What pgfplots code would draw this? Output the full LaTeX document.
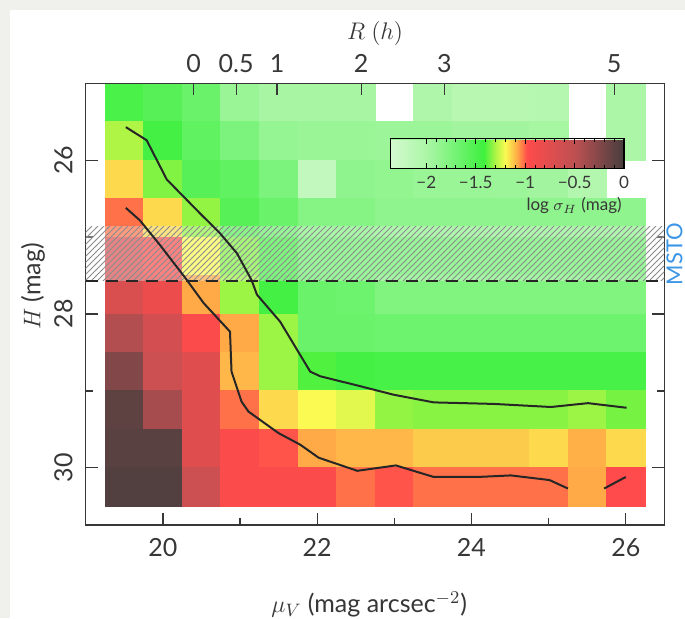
\documentclass[border=0pt]{standalone}
\usepackage{pgfplots}
\pgfplotsset{compat=1.18}
\usepackage{pgfplotstable}
\usepackage{fontspec}
\setmainfont{Lato}
\usetikzlibrary{patterns,calc}
\definecolor{frame}{RGB}{55,55,55}
\definecolor{msto}{RGB}{60,150,230}
\definecolor{bggray}{RGB}{240,240,236}

% cells: mu_V centre, H centre, log sigma_H
\pgfplotstableread{
x y c
19.5 25.25 -1.48
20.0 25.25 -1.55
20.5 25.25 -1.65
21.0 25.25 -1.90
21.5 25.25 -1.98
22.0 25.25 -1.98
22.5 25.25 -1.98
23.5 25.25 -2.03
24.0 25.25 -2.10
24.5 25.25 -2.10
25.0 25.25 -2.08
26.0 25.25 -2.00
19.5 25.75 -1.30
20.0 25.75 -1.45
20.5 25.75 -1.60
21.0 25.75 -1.75
21.5 25.75 -1.88
22.0 25.75 -1.90
22.5 25.75 -1.90
23.0 25.75 -1.92
23.5 25.75 -1.92
24.0 25.75 -1.95
24.5 25.75 -1.95
25.0 25.75 -1.97
26.0 25.75 -2.00
19.5 26.25 -1.15
20.0 26.25 -1.35
20.5 26.25 -1.55
21.0 26.25 -1.60
21.5 26.25 -1.75
22.0 26.25 -2.20
22.5 26.25 -1.85
23.0 26.25 -1.87
23.5 26.25 -1.90
24.0 26.25 -1.90
24.5 26.25 -1.92
25.0 26.25 -1.95
25.5 26.25 -2.05
19.5 26.75 -1.02
20.0 26.75 -1.15
20.5 26.75 -1.33
21.0 26.75 -1.55
21.5 26.75 -1.65
22.0 26.75 -1.80
22.5 26.75 -1.80
23.0 26.75 -1.85
23.5 26.75 -1.85
24.0 26.75 -1.85
24.5 26.75 -1.85
25.0 26.75 -1.85
25.5 26.75 -1.85
26.0 26.75 -1.85
19.5 27.25 -0.72
20.0 27.25 -0.95
20.5 27.25 -1.20
21.0 27.25 -1.35
21.5 27.25 -1.48
22.0 27.25 -1.68
22.5 27.25 -1.68
23.0 27.25 -1.68
23.5 27.25 -1.68
24.0 27.25 -1.68
24.5 27.25 -1.68
25.0 27.25 -1.68
25.5 27.25 -1.68
26.0 27.25 -1.68
19.5 27.75 -0.70
20.0 27.75 -0.85
20.5 27.75 -1.08
21.0 27.75 -1.32
21.5 27.75 -1.45
22.0 27.75 -1.65
22.5 27.75 -1.67
23.0 27.75 -1.77
23.5 27.75 -1.77
24.0 27.75 -1.77
24.5 27.75 -1.77
25.0 27.75 -1.77
25.5 27.75 -1.77
26.0 27.75 -1.77
19.5 28.25 -0.45
20.0 28.25 -0.65
20.5 28.25 -0.95
21.0 28.25 -1.08
21.5 28.25 -1.32
22.0 28.25 -1.65
22.5 28.25 -1.65
23.0 28.25 -1.67
23.5 28.25 -1.67
24.0 28.25 -1.67
24.5 28.25 -1.67
25.0 28.25 -1.67
25.5 28.25 -1.67
26.0 28.25 -1.67
19.5 28.75 -0.25
20.0 28.75 -0.60
20.5 28.75 -0.75
21.0 28.75 -1.10
21.5 28.75 -1.32
22.0 28.75 -1.40
22.5 28.75 -1.45
23.0 28.75 -1.47
23.5 28.75 -1.47
24.0 28.75 -1.47
24.5 28.75 -1.47
25.0 28.75 -1.47
25.5 28.75 -1.47
26.0 28.75 -1.47
19.5 29.25 -0.10
20.0 29.25 -0.40
20.5 29.25 -0.75
21.0 29.25 -1.02
21.5 29.25 -1.15
22.0 29.25 -1.20
22.5 29.25 -1.23
23.0 29.25 -1.33
23.5 29.25 -1.34
24.0 29.25 -1.34
24.5 29.25 -1.34
25.0 29.25 -1.34
25.5 29.25 -1.32
26.0 29.25 -1.36
19.5 29.75 -0.08
20.0 29.75 -0.08
20.5 29.75 -0.75
21.0 29.75 -0.96
21.5 29.75 -0.99
22.0 29.75 -1.08
22.5 29.75 -1.10
23.0 29.75 -1.10
23.5 29.75 -1.13
24.0 29.75 -1.13
24.5 29.75 -1.13
25.0 29.75 -1.15
25.5 29.75 -1.09
26.0 29.75 -1.15
19.5 30.25 -0.05
20.0 30.25 -0.05
20.5 30.25 -0.60
21.0 30.25 -0.96
21.5 30.25 -0.96
22.0 30.25 -0.96
22.5 30.25 -1.02
23.0 30.25 -0.99
23.5 30.25 -1.02
24.0 30.25 -1.02
24.5 30.25 -1.02
25.0 30.25 -1.02
25.5 30.25 -1.08
26.0 30.25 -0.98
}\cells

\pgfplotstableread{
x y
19.52 25.57
19.79 25.74
20.05 26.25
20.48 26.69
20.74 26.95
20.96 27.21
21.15 27.56
21.22 27.75
21.52 28.10
21.91 28.75
22.04 28.81
22.56 28.94
22.99 29.05
23.51 29.15
24.29 29.17
25.03 29.21
25.51 29.16
26.01 29.22
}\uppercurve

\pgfplotstableread{
x y
19.52 26.62
19.70 26.78
19.96 27.10
20.29 27.53
20.53 27.86
20.87 28.23
20.89 28.75
21.02 29.14
21.11 29.27
21.50 29.55
21.78 29.70
22.02 29.87
22.52 30.04
23.02 29.97
23.51 30.12
24.08 30.12
24.51 30.10
25.01 30.16
25.25 30.27
nan nan
25.72 30.27
26.00 30.12
}\lowercurve

\begin{document}
\begin{tikzpicture}
\fill[bggray] (0,0) rectangle (342.5pt,309pt);
\fill[white] (5pt,0) rectangle (342.5pt,304pt);
\useasboundingbox (0,0) rectangle (342.5pt,309pt);
\begin{axis}[
  at={(42.85pt,46.5pt)}, anchor=south west,
  scale only axis, width=289.35pt, height=220.85pt,
  xmin=19, xmax=26.5, ymin=25, ymax=30.745, y dir=reverse,
  axis line style={frame, line width=0.65pt},
  tick style={frame, line width=0.65pt},
  tick align=inside,
  major tick length=6pt, minor tick length=3.5pt,
  xtick={20,22,24,26}, minor xtick={21,23,25},
  ytick={26,28,30}, minor ytick={27,29},
  xtick pos=bottom,
  /pgf/number format/assume math mode=true,
  xticklabel style={font=\fontsize{12.5}{14}\selectfont, text=frame},
  yticklabel style={font=\fontsize{12.5}{14}\selectfont, text=frame, rotate=90, anchor=south},
  xticklabel shift=3pt, yticklabel shift=3pt,
  xlabel={$\mu_V$ (mag arcsec$^{-2}$)},
  xlabel style={font=\fontsize{12.5}{14}\selectfont, text=frame, at={(axis description cs:0.49,-0.197)}, anchor=base},
  ylabel={$H$ (mag)},
  ylabel style={font=\fontsize{12.5}{14}\selectfont, text=frame, at={(axis description cs:-0.091,0.54)}, anchor=center},
  colormap={sig}{rgb255(0pt)=(212,250,207); rgb255(36pt)=(172,246,167); rgb255(66pt)=(115,243,115); rgb255(94pt)=(62,240,62); rgb255(106pt)=(175,245,70); rgb255(116pt)=(250,250,82); rgb255(128pt)=(255,170,70); rgb255(138pt)=(255,75,75); rgb255(186pt)=(190,80,82); rgb255(236pt)=(70,62,62)},
  point meta min=-2.36, point meta max=0,
  colorbar horizontal,
  colorbar style={
    at={($(parent axis.north west)+(152.5pt,-18.9pt)$)},
    anchor=north west,
    scale only axis, width=116.65pt, height=15.3pt,
    xtick={-2,-1.5,-1,-0.5,0},
    xticklabels={−2,−1.5,−1,−0.5,0},
    minor x tick num=4,
    xtick pos=both, xticklabel pos=lower,
    tick align=inside,
    major tick length=3pt, minor tick length=1.8pt,
    tick style={black, line width=0.5pt},
    axis line style={black, line width=0.6pt},
    xticklabel style={font=\fontsize{8.5}{10}\selectfont, text=frame},
    xlabel={log $\sigma_H$ (mag)},
    xlabel style={font=\fontsize{8.5}{10}\selectfont, text=frame, at={(xticklabel cs:1)}, anchor=north east, inner sep=1pt},
  },
]
\addplot[scatter, only marks, scatter src=explicit, mark=square*, mark size=9.64pt,
  scatter/use mapped color={draw=mapped color, fill=mapped color}, mark options={line width=0.3pt}]
  table[x=x, y=y, meta=c] {\cells};
\end{axis}
\begin{axis}[
  at={(42.85pt,46.5pt)}, anchor=south west,
  scale only axis, width=289.35pt, height=220.85pt,
  xmin=19, xmax=26.5, ymin=25, ymax=30.745, y dir=reverse,
  axis x line*=top, axis y line=none,
  axis line style={frame, line width=0.65pt},
  tick style={frame, line width=0.65pt},
  tick align=inside, major tick length=6pt,
  xtick={20.40,20.95,21.48,22.57,23.65,25.85},
  xticklabels={0,0.5,1,2,3,5},
  xticklabel style={font=\fontsize{12.5}{14}\selectfont, text=frame},
  xticklabel shift=2pt,
  xlabel={$R\ (h)$},
  xlabel style={font=\fontsize{12}{14}\selectfont, text=frame, at={(axis description cs:0.5,1.112)}, anchor=center},
  clip=false,
  unbounded coords=jump,
]
\addplot[draw=none, fill=white, fill opacity=0.3] coordinates {(19,26.86) (26.5,26.86) (26.5,27.57) (19,27.57)} -- cycle;
\addplot[draw=none, pattern=north east lines, pattern color=black!45] coordinates {(19,26.86) (26.5,26.86) (26.5,27.57) (19,27.57)} -- cycle;
\addplot[black!85, line width=1pt, dash pattern=on 6pt off 4pt] coordinates {(19,27.57) (26.5,27.57)};
\addplot[black!85, line width=1pt] table[x=x, y=y] {\uppercurve};
\addplot[black!85, line width=1pt] table[x=x, y=y] {\lowercurve};
\node[rotate=90, text=msto, font=\fontsize{11}{13}\selectfont, inner sep=0pt] at (axis cs:26.63,27.22) {MSTO};
\end{axis}
\end{tikzpicture}
\end{document}
